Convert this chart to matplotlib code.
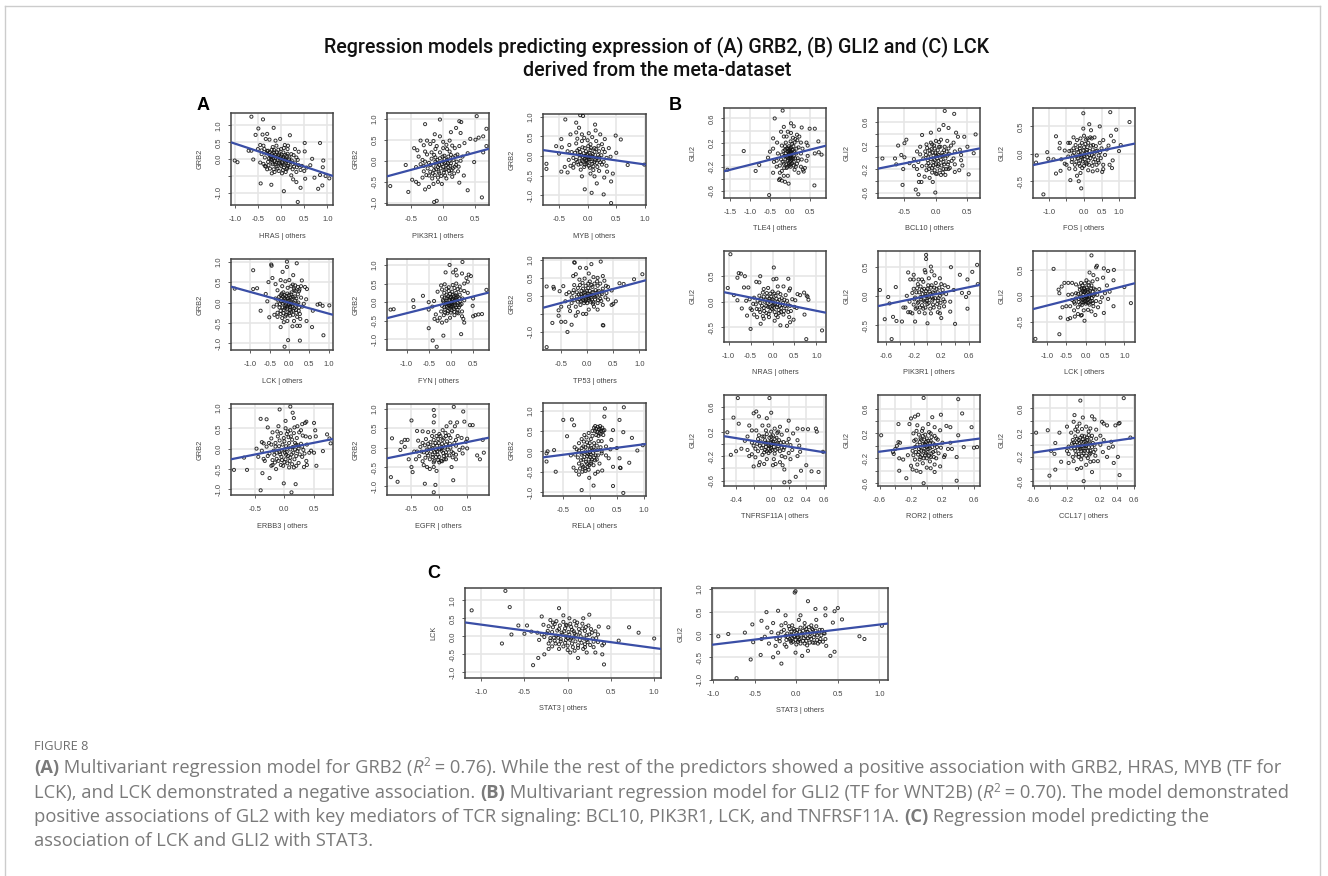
import matplotlib
matplotlib.use("Agg")
import matplotlib.pyplot as plt
from matplotlib.lines import Line2D

W, H = 1328, 876

#Points, (x, y) in the units of each panel

hras_pts = [(-.64,1.26),(-.39,1.18),(-.49,.91),(-.16,.93),(-.55,.72),(-1.0,-.04),(-.94,-.09),(-.7,.25),(-.64,.25),(-.6,-.01),(-.44,-.72),(-.21,-.76),(.06,-.95),(.36,-1.27),(.19,.71),(.51,.48),(.84,.48),(.91,-.04),(.9,-.24),(.8,-.88),(.89,-.78),(.96,-.5),(1.04,-.57),(.67,.01),(.51,.23),(.42,-.85),(.33,-.68),(.26,-.6),(.52,-.58),(.72,-.55),(.84,-.47),
(-.4,.73),(-.3,.75),(-.33,.6),(-.25,.58),(-.12,.55),(-.02,.6),(-.45,.42),(-.38,.4),(-.28,.25),(-.2,.28),(-.1,.4),(0,.3),(.08,.42),(.15,.4),(.3,.3),(.38,.22),(-.5,.3),(-.42,.15),(-.35,.05),(-.25,.12),(-.15,.2),(-.05,.12),(.05,.2),(.12,.1),(.22,.15),(.33,.05),(-.45,-.1),(-.35,-.2),(-.28,-.08),(-.2,-.02),(-.12,.04),(-.03,-.04),(.04,.03),(.12,-.05),(.2,-.08),(.3,-.1),(.38,-.18),(.45,-.2),(.55,-.25),(.63,-.18),
(-.33,-.22),(-.24,-.28),(-.18,-.15),(-.1,-.22),(-.02,-.16),(.06,-.25),(.15,-.2),(.25,-.3),(.33,-.38),(.42,-.32),(-.2,-.42),(-.14,-.38),(-.05,-.35),(.02,-.42),(.1,-.38),(.22,-.48),(.5,-.35),(-.16,.1),(-.08,.06),(0,.08),(.08,.0),(-.22,.0),(-.1,-.1),(.02,-.08),(.1,-.12),(.17,.0)]
hras_core = [(-.32,.18),(-.3,.24),(-.26,.02),(-.24,.2),(-.22,.08),(-.2,.16),(-.19,-.1),(-.17,.02),(-.15,.27),(-.14,-.06),(-.13,.14),(-.12,-.16),(-.09,.2),(-.07,-.03),(-.06,.28),(-.05,-.12),(-.04,.17),(-.01,.02),(.0,-.2),(.01,.14),(.03,-.12),(.05,.06),(.07,-.16),(.09,.13),(.1,-.02),(.13,-.26),(.14,.16),(.16,-.13),(.18,.05),(.19,-.24),(.23,-.04),(.25,-.14),(.27,.12),(.28,-.22),(-.38,-.14),(-.3,-.3),(-.27,-.18),(-.16,-.3),(-.08,-.28),(.04,-.32),(.12,-.3),(.34,-.24),(.36,-.02),(-.42,.26),(-.36,.3),(-.18,.36),(.06,.33),(.14,.3)]
hras_line = [.5, -.5]

grb_pik_pts = [(-.82,-.6),(-.58,-.1),(-.54,-.74),(-.05,.98),(-.28,.87),(.52,1.06),(.28,.92),(.25,.94),(.67,.76),(.2,.78),(.6,-.87),(.38,-.7),(-.14,-.98),(-.1,-.95),(.62,.58),(.62,.2),(.67,.35),(.55,.55),(.5,.5),(.42,.52),(.27,.66),(.48,-.03),(.12,.68),(-.13,.63),(-.05,.58),
(-.45,.3),(-.4,.25),(-.35,.48),(-.3,.37),(-.25,.48),(-.2,.4),(-.15,.47),(-.1,.35),(0,.45),(.05,.38),(.1,.48),(.18,.3),(.25,.35),(.33,.42),(-.38,.1),(-.32,.02),(-.25,.15),(-.18,.2),(-.12,.08),(-.05,.2),(.02,.12),(.1,.22),(.15,.08),(.22,.15),(.3,.1),(.38,.18),
(-.42,-.15),(-.35,-.08),(-.28,-.02),(-.2,-.1),(-.12,-.02),(-.06,-.1),(0,-.02),(.06,.02),(.12,-.06),(.2,-.1),(.27,.0),(-.48,-.45),(-.42,-.5),(-.38,-.55),(-.32,-.4),(-.28,-.68),(-.22,-.62),(-.15,-.55),(-.08,-.5),(-.02,-.55),(.03,-.35),(.1,-.3),(.17,-.3),(.25,-.52),(.32,-.35),(-.3,-.25),(-.22,-.35),(-.14,-.22),(-.06,-.3),(.02,-.22),(.08,-.15),(.15,-.18),(.23,-.25),(-.08,-.15),(-.02,-.08),(.05,-.1),(-.16,-.3)]
grb_pik_core = [(-.24,-.18),(-.22,-.05),(-.2,-.26),(-.18,.05),(-.17,-.42),(-.15,-.12),(-.14,.14),(-.13,-.34),(-.11,-.2),(-.1,-.06),(-.09,.02),(-.08,-.4),(-.07,-.26),(-.05,.06),(-.04,-.18),(-.03,-.36),(-.01,.1),(.0,-.14),(.01,-.28),(.02,.04),(.03,-.05),(.04,-.2),(.05,-.42),(.07,-.06),(.08,.1),(.09,-.24),(.1,.0),(.11,-.12),(.12,.14),(.13,-.22),(.14,-.38),(.16,.02),(.18,-.14),(.19,.12),(.21,-.02),(.24,-.14),(-.28,.22),(-.12,.28),(.0,.3),(.14,.36),(-.3,-.12),(-.26,-.34),(.06,.28)]
grb_pik_line = [-.37, .285]

myb_pts = [(-.39,.93),(-.13,1.04),(-.08,1.02),(-.2,.85),(.13,.8),(-.15,.72),(.14,.65),(.49,.52),(.58,.42),(.3,.43),(.22,.55),(.5,.08),(.7,-.23),(.99,-.22),(-.72,-.2),(-.72,-.33),(-.55,.25),(-.45,.22),(-.46,.43),(-.5,.06),(-.46,-.4),(.44,-.45),(.41,-.65),(.29,-.55),(.28,-.98),(.07,-.94),(-.05,-.85),(.41,-1.2),(.16,-.7),(.34,-.4),
(-.3,.55),(-.2,.6),(-.1,.55),(.0,.4),(.08,.48),(-.32,.28),(-.2,.32),(-.1,.38),(.05,.3),(.15,.38),(.25,.3),(-.35,.12),(-.28,.1),(-.15,.18),(-.05,.2),(.05,.15),(.12,.2),(.2,.12),(.3,.1),(.37,.2),(-.33,-.1),(-.25,-.05),(-.15,.03),(-.08,-.03),(.0,.05),(.08,.0),(.16,-.05),(.24,.02),(.33,-.05),(.4,-.02),
(-.4,-.28),(-.3,-.25),(-.18,-.15),(-.1,-.12),(-.02,-.1),(.05,-.08),(.12,-.15),(.2,-.1),(.28,-.15),(-.35,-.42),(-.25,-.3),(-.12,-.35),(-.05,-.22),(.02,-.25),(.08,-.2),(.17,-.28),(.25,-.22),(.33,-.25),(-.1,-.52),(.05,-.45),(.12,-.52),(.2,-.38),(-.02,-.12),(-.04,.0),(.02,-.03)]
myb_core = [(-.22,.08),(-.2,-.1),(-.18,.14),(-.16,-.22),(-.14,-.06),(-.13,.1),(-.12,-.2),(-.11,.02),(-.09,.22),(-.08,-.14),(-.07,.07),(-.06,-.28),(-.05,-.06),(-.03,.12),(-.02,-.2),(-.01,.02),(.0,-.16),(.01,.25),(.02,-.08),(.03,.08),(.04,-.3),(.05,-.02),(.06,.2),(.07,-.14),(.09,.05),(.1,-.26),(.11,-.04),(.12,.1),(.13,-.1),(.15,.18),(.16,-.18),(.18,.03),(.19,.26),(.2,-.04),(.22,-.16),(-.06,.46),(.02,.58),(-.18,.44),(.27,.18),(-.24,-.2),(.1,-.36)]
myb_line = [.15, -.22]

lck_pts = [(-.92,.79),(-.92,.33),(-.82,.35),(-1.39,.34),(-.6,.21),(-.56,.03),(-.73,-.2),(-.51,-.36),(-.46,.93),(-.45,.9),(-.53,.5),(-.43,.6),(-.17,.75),(-.06,1.0),(-.06,.87),(.19,.96),(.1,.67),(.32,.54),(.45,.33),(.4,.38),(.43,.08),(.58,-.6),(.87,-.8),(.72,-.05),(.78,-.03),(.85,-.08),(1.02,-.07),(.6,-.2),(.44,-.45),(.27,-.57),(.27,-.93),(-.03,-.92),(-.12,-1.08),(.2,-.57),(-.22,-.6),
(-.35,.45),(-.22,.55),(-.1,.52),(0,.55),(.05,.4),(.15,.42),(.25,.28),(-.3,.3),(-.22,.18),(-.15,.25),(-.05,.22),(.05,.2),(.13,.3),(.22,.2),(.3,.12),(-.35,.1),(-.28,.05),(-.2,.1),(-.12,.1),(-.03,.05),(.06,.08),(.15,.05),(.23,.0),(.37,-.03),(-.4,-.1),(-.32,-.05),(-.25,-.12),(-.17,-.02),(-.08,-.05),(.0,-.03),(.08,-.1),(.16,-.08),(.25,-.12),(.33,-.1),
(-.38,-.3),(-.3,-.25),(-.22,-.2),(-.14,-.18),(-.06,-.15),(.02,-.18),(.1,-.2),(.18,-.25),(.27,-.28),(-.3,-.35),(-.18,-.38),(-.08,-.3),(.02,-.32),(.12,-.45),(.2,-.35),(.28,-.4),(-.05,-.45),(.08,-.58),(-.14,-.48),(.02,-.1),(-.1,-.08),(.05,-.03)]
lck_core = [(-.26,.14),(-.24,-.04),(-.22,-.28),(-.2,.03),(-.19,.22),(-.17,-.12),(-.16,.14),(-.15,-.26),(-.13,.02),(-.12,.18),(-.11,-.14),(-.1,-.34),(-.09,.06),(-.07,.16),(-.06,-.1),(-.05,-.24),(-.04,.1),(-.02,-.06),(-.01,.18),(.0,-.26),(.01,.06),(.03,-.12),(.04,.12),(.05,-.22),(.06,.25),(.07,-.02),(.09,.14),(.1,-.3),(.11,.0),(.12,.34),(.13,-.14),(.14,.15),(.16,.28),(.17,-.18),(.18,.1),(.2,-.04),(.22,.38),(.24,-.2),(.26,.32),(.3,.4),(.09,.44),(-.04,.36),(-.18,.4)]
lck_line = [.39, -.30]

fyn_pts = [(-1.36,-.2),(-1.29,-.19),(-.85,.05),(-.84,-.13),(-.63,.17),(-.5,.0),(-.5,-.7),(-.41,-1.03),(-.32,-1.2),(-.17,-.9),(.23,-.86),(-.03,1.0),(.05,.8),(.11,.87),(.26,1.08),(-.12,.8),(.13,.72),(.25,.77),(.45,.7),(.8,.33),(.4,.74),(.35,.65),(.5,.1),(.49,-.1),(.5,-.38),(.55,-.35),(.62,-.33),(.7,-.32),(.3,-.55),(.28,-.45),
(-.5,-.2),(-.42,-.12),(-.38,.03),(-.34,-.33),(-.37,-.45),(-.3,.28),(-.2,.15),(-.22,.45),(-.14,.48),(-.05,.4),(.04,.46),(.12,.5),(.2,.42),(.3,.5),(.38,.55),(-.15,.25),(-.05,.3),(.03,.28),(.12,.25),(.2,.2),(.3,.3),(.38,.25),(-.18,.05),(-.1,.1),(-.02,.12),(.05,.08),(.12,.12),(.2,.02),(.3,.05),
(-.2,-.1),(-.12,-.05),(-.05,-.02),(.02,.0),(.08,-.03),(.15,-.08),(.24,-.05),(-.22,-.25),(-.14,-.2),(-.06,-.15),(.0,-.12),(.07,-.18),(.15,-.2),(.25,-.25),(-.25,-.42),(-.16,-.35),(-.08,-.3),(.0,-.28),(.08,-.35),(.17,-.3),(.25,-.38),(-.2,-.55),(-.1,-.5),(-.02,-.42),(-.3,-.5),(.02,-.05),(-.03,-.08),(.04,.05)]
fyn_core = [(-.17,.02),(-.15,-.14),(-.14,.12),(-.13,-.28),(-.11,-.02),(-.1,.2),(-.09,-.12),(-.08,.04),(-.07,-.24),(-.06,.16),(-.05,-.08),(-.04,.06),(-.03,-.18),(-.02,.22),(-.01,-.04),(.0,.14),(.01,-.22),(.02,.08),(.03,-.1),(.04,.2),(.05,-.14),(.06,.0),(.07,.16),(.08,-.26),(.09,.05),(.1,-.08),(.11,.18),(.12,-.14),(.13,.06),(.14,-.28),(.15,.15),(.16,-.02),(.18,-.14),(.19,.1),(.21,-.08),(.22,.32),(.08,.38),(-.1,.36),(.26,.1),(-.2,.34),(.15,.35)]
fyn_line = [-.43, .26]

tp53_pts = [(-.78,-1.42),(-.38,-1.0),(-.78,.26),(-.65,.25),(-.64,.2),(-.53,.13),(-.46,.27),(-.67,-.75),(-.55,-.55),(-.5,-.72),(-.42,-.72),(-.3,-.8),(-.22,-.55),(.31,-.82),(.3,-.81),(-.25,.93),(-.24,.92),(.08,.88),(.26,.95),(-.27,.55),(-.22,.6),(.03,.62),(.9,.46),(1.06,.6),(.7,.33),(.62,.35),(.55,-.15),(.5,-.22),(-.02,.77),(-.14,.78),(.3,.55),
(-.55,-.4),(-.5,-.3),(-.42,-.15),(-.35,.1),(-.3,-.2),(-.25,.3),(-.15,.45),(-.05,.48),(.05,.4),(.12,.52),(.2,.5),(.33,.42),(-.4,.05),(-.28,.08),(-.18,.22),(-.08,.2),(.02,.22),(.1,.25),(.2,.28),(.3,.2),(.4,.25),(.47,.15),(-.2,-.02),(-.12,.05),(-.04,.1),(.04,.05),(.12,.1),(.2,.1),(.28,.05),(.37,.08),
(-.35,-.3),(-.25,-.12),(-.15,-.1),(-.07,-.05),(0,-.02),(.07,-.05),(.15,-.02),(.25,-.08),(.4,-.1),(-.33,-.42),(-.22,-.3),(-.13,-.25),(-.04,-.15),(.04,-.12),(.12,-.18),(.2,-.2),(.3,-.25),(-.18,-.45),(-.08,-.5),(.03,-.38),(.13,-.3),(.2,-.38),(-.02,-.5),(.47,-.25),(-.03,-.08),(.03,.0)]
tp53_core = [(-.2,.1),(-.18,-.16),(-.16,.04),(-.14,.3),(-.12,-.14),(-.11,.14),(-.1,-.02),(-.09,.36),(-.08,-.12),(-.07,.08),(-.06,-.2),(-.05,.02),(-.03,.28),(-.02,-.12),(-.01,.14),(.0,-.2),(.01,.06),(.02,.34),(.03,-.06),(.05,.14),(.06,-.16),(.07,.02),(.08,.3),(.09,-.1),(.1,.1),(.11,-.22),(.13,.02),(.14,.34),(.15,-.1),(.16,.16),(.18,.0),(.19,.4),(.21,-.12),(.22,.14),(.24,.03),(.25,.34),(.27,-.14),(.29,.12),(.35,-.04),(.36,.28),(-.26,.16),(-.3,-.04)]
tp53_line = [-.33, .435]

erbb3_pts = [(-.85,-.52),(-.68,-.22),(-.63,-.52),(-.47,.0),(-.4,-1.02),(-.4,.73),(-.3,.72),(-.37,-.6),(-.25,-.72),(-.08,.96),(.1,1.03),(.14,.88),(.16,.75),(.02,.68),(-.01,-.85),(.19,-.87),(.12,-1.07),(.5,.63),(.52,.45),(.72,.35),(.76,.25),(.78,.13),(.65,-.06),(.54,-.42),(.37,.66),(.35,.63),(.5,-.1),(.3,.6),(.22,.55),
(-.44,-.2),(-.38,.16),(-.35,.13),(-.33,-.3),(-.28,.52),(-.22,.25),(-.2,.4),(-.12,.42),(-.1,.55),(.02,.5),(.1,.45),(.17,.52),(.28,.45),(.36,.3),(.43,.28),(.53,.3),(-.38,-.05),(-.3,.05),(-.22,.1),(-.15,.05),(-.08,.2),(.0,.18),(.07,.28),(.13,.22),(.2,.1),(.3,.05),(.38,.1),(.45,-.05),
(-.35,-.25),(-.25,-.12),(-.17,-.15),(-.08,-.08),(0,-.02),(.07,.03),(.15,-.1),(.24,.0),(.32,-.03),(.42,-.1),(-.2,-.4),(-.13,-.25),(-.05,-.2),(.03,-.15),(.1,-.22),(.2,-.18),(.3,-.2),(.37,-.3),(-.22,-.42),(-.14,-.5),(-.06,-.4),(.0,-.33),(.08,-.46),(.16,-.46),(.24,-.35),(.33,-.45),(.38,-.4),(-.05,-.05),(.04,-.08),(.1,-.02)]
erbb3_core = [(-.2,-.28),(-.18,-.05),(-.16,-.34),(-.15,.14),(-.13,-.1),(-.11,.3),(-.1,-.3),(-.09,.06),(-.07,-.14),(-.06,.38),(-.04,-.28),(-.03,.1),(-.02,-.42),(-.01,.26),(.01,-.1),(.02,-.26),(.03,.06),(.04,.36),(.05,-.36),(.06,-.18),(.08,.14),(.09,-.3),(.11,.3),(.12,-.14),(.13,-.38),(.14,.04),(.16,.38),(.17,-.26),(.18,.14),(.2,-.42),(.21,.26),(.22,-.06),(.25,.4),(.26,-.14),(.28,.12),(.31,.32),(.34,-.12),(.23,.08),(.18,-.02),(-.28,-.18),(-.26,.14),(.06,.42)]
erbb3_line = [-.26, .237]

egfr_pts = [(-.87,-.76),(-.75,-.88),(-.85,.24),(-.62,.2),(-.68,.14),(-.57,.2),(-.62,.02),(-.7,-.06),(-.5,.7),(-.1,.97),(-.09,.82),(-.1,.65),(.26,1.05),(.43,.93),(.45,.67),(.55,.58),(.6,.58),(.68,-.2),(.8,-.13),(.78,.2),(.5,.23),(.73,-.3),(-.26,-.93),(-.07,-.96),(-.1,-1.15),(.25,-.84),(.22,-.5),(-.48,-.63),(-.05,-.6),(.32,.65),
(-.55,-.3),(-.5,-.5),(-.45,-.1),(-.4,.43),(-.3,.42),(-.2,.4),(-.1,.42),(0,.35),(.06,.45),(.13,.55),(.2,.65),(.28,.55),(-.38,.18),(-.3,.12),(-.2,.1),(-.1,.2),(-.02,.22),(.06,.2),(.12,.3),(.2,.25),(.3,.2),(.4,.25),(.48,.15),(-.4,-.1),(-.32,-.1),(-.22,-.05),(-.12,-.02),(-.04,.05),(.04,.02),(.12,.08),(.2,.0),(.3,.05),(.42,.0),(.5,-.02),
(-.42,-.3),(-.3,-.35),(-.2,-.2),(-.12,-.18),(-.04,-.1),(.04,-.08),(.12,-.12),(.22,-.1),(.3,-.18),(.42,-.15),(-.28,-.45),(-.17,-.55),(-.1,-.38),(-.02,-.32),(.05,-.35),(.12,-.3),(.24,-.25),(.3,-.3),(-.22,-.5),(-.1,-.5),(.0,-.38),(.08,-.22),(.04,-.03),(-.06,-.05)]
egfr_core = [(-.28,-.12),(-.26,.06),(-.25,-.26),(-.24,.22),(-.22,-.14),(-.18,.02),(-.17,-.3),(-.16,.14),(-.15,-.1),(-.13,.3),(-.12,-.24),(-.11,.06),(-.09,-.34),(-.08,-.12),(-.07,.12),(-.06,-.24),(-.05,.3),(-.03,-.18),(-.01,.12),(.0,-.24),(.01,-.04),(.02,.3),(.03,-.34),(.05,.1),(.07,-.14),(.08,.24),(.09,-.3),(.1,.0),(.11,.38),(.13,-.2),(.14,.16),(.15,-.05),(.17,.32),(.18,-.2),(.19,.1),(.23,.42),(.25,-.14),(.27,.12),(.33,.3),(.36,-.06),(-.34,.02),(-.36,-.22)]
egfr_line = [-.275, .257]

rela_pts = [(-.49,.77),(-.33,.78),(-.29,.64),(-.42,.37),(-.78,.0),(-.8,-.05),(-.8,-.25),(-.66,.03),(-.63,-.5),(.28,1.05),(.27,.85),(.63,1.08),(.55,.77),(.62,.47),(.78,.33),(.88,.02),(.98,.15),(.43,.52),(.73,-.28),(.55,-.17),(.56,-.4),(.57,-.41),(.43,-.38),(.43,-.85),(.62,-1.02),(.07,-.84),(-.01,-.65),(-.15,-.95),(.4,.28),(.5,.08),
(-.35,-.1),(-.3,-.4),(-.25,-.48),(-.2,.2),(-.15,.3),(-.1,.4),(-.02,.45),(.05,.5),(.1,.62),(.15,.6),(.2,.55),(.25,.5),(-.28,.1),(-.2,.02),(-.12,.12),(-.05,.22),(.02,.3),(.08,.2),(.16,.25),(.22,.25),(.3,.12),(.38,.05),(-.22,-.15),(-.15,-.08),(-.08,.0),(0,.05),(.07,.1),(.14,.03),(.22,.0),(.3,-.1),(.35,-.17),
(-.2,-.3),(-.12,-.2),(-.05,-.12),(.02,-.08),(.08,-.15),(.15,-.1),(.22,-.05),(-.18,-.42),(-.12,-.38),(-.05,-.3),(.03,-.25),(.1,-.22),(.18,-.3),(-.08,-.48),(-.02,-.45),(.1,-.55),(.15,-.5),(.23,-.47),(-.2,-.57),(-.14,-.5),(.0,-.02),(-.03,-.07),(.12,.4),(.18,.45),(.08,.58)]
rela_core = [(-.16,-.22),(-.15,.08),(-.14,-.34),(-.13,-.04),(-.11,.24),(-.1,-.14),(-.09,-.42),(-.08,.1),(-.07,-.26),(-.06,.34),(-.05,-.04),(-.04,-.38),(-.03,.14),(-.02,-.2),(-.01,-.34),(.0,.2),(.01,-.14),(.02,-.3),(.03,.08),(.04,-.2),(.05,.38),(.06,-.04),(.07,-.34),(.09,.02),(.1,.5),(.11,-.1),(.12,.55),(.13,-.2),(.14,.48),(.16,.38),(.17,.54),(.19,.62),(.2,.42),(.21,.5),(.23,.58),(.25,.4),(.27,.52),(.13,.14),(.2,.1),(-.24,.05),(-.27,-.08)]
rela_line = [-.148, .18]

tle4_pts = [(-1.57,-.25),(-1.16,.06),(-.86,-.27),(-.77,-.17),(-.52,-.67),(-.18,.73),(-.38,.6),(.62,-.51),(-.03,-.48),(-.15,.46),(.03,.52),(.1,.47),(.3,.45),(.63,.43),(.5,.43),(.72,.22),(.73,.04),(.8,.0),(.63,.02),(.45,-.02),(-.42,-.3),(-.27,-.42),(-.2,-.43),(-.12,-.45),(-.5,.05),(-.42,.1),(-.55,-.05),(-.42,.27),(.35,-.28),
(-.4,-.12),(-.33,-.2),(-.25,-.3),(-.22,.38),(-.15,.3),(-.05,.38),(.08,.28),(.18,.33),(.28,.2),(.42,.2),(-.32,.2),(-.2,.15),(-.1,.2),(.02,.22),(.12,.2),(.22,.12),(.32,.1),(.45,.15),(-.3,.02),(-.2,.0),(-.12,.08),(-.05,.05),(.02,.05),(.08,.08),(.16,.02),(.28,.02),(-.33,-.1),(-.22,-.08),(-.13,-.02),(-.05,-.02),(.02,-.03),(.1,-.02),(.2,-.06),(.3,-.08),(.42,-.1),
(-.25,-.18),(-.15,-.15),(-.06,-.1),(.02,-.1),(.1,-.12),(.18,-.15),(.28,-.2),(.38,-.22),(-.2,-.27),(-.08,-.22),(.02,-.2),(.12,-.25),(.22,-.3),(.33,-.25),(-.15,-.35),(-.05,-.35),(-.25,-.4),(.05,.0),(-.02,.02),(0,-.05),(.03,-.06)]
tle4_core = [(-.18,-.12),(-.16,.06),(-.14,-.22),(-.12,.14),(-.11,-.08),(-.1,.02),(-.09,-.16),(-.08,.1),(-.07,-.04),(-.06,-.2),(-.04,.1),(-.04,-.06),(-.03,.0),(-.03,-.14),(-.02,.07),(-.01,-.18),(-.01,.03),(.0,.1),(.0,-.12),(.01,-.02),(.02,.12),(.02,-.16),(.03,.02),(.04,-.08),(.05,.08),(.06,-.14),(.07,.03),(.08,-.06),(.09,.14),(.1,-.18),(.11,.05),(.13,-.06),(.14,.26),(.15,-.2),(.17,.1),(.19,.24),(.21,-.1),(.24,.3),(-.08,.3),(.03,.36),(-.02,.14),(.06,.18)]
tle4_line = [-.276, .149]

bcl10_pts = [(-.85,-.02),(-.65,-.02),(-.63,-.12),(-.55,.04),(-.6,.2),(-.5,.24),(-.47,.3),(-.52,-.2),(-.53,-.47),(-.5,.0),(-.32,-.55),(-.28,-.63),(-.27,-.42),(-.23,-.42),(-.01,-.6),(.14,.79),(.29,.74),(.12,.55),(.2,.5),(.05,.47),(-.08,.42),(-.22,.38),(.32,.42),(.63,.39),(.45,.35),(.52,-.29),(.6,.07),(.4,.04),(.38,.13),(.5,.18),
(-.42,-.1),(-.35,-.15),(-.3,.1),(-.25,.18),(-.15,.22),(-.08,.25),(0,.28),(.08,.3),(.18,.28),(.28,.25),(.35,.35),(-.35,-.03),(-.25,.05),(-.17,.1),(-.1,.12),(-.02,.15),(.05,.18),(.13,.12),(.2,.15),(.3,.1),(-.28,-.08),(-.2,-.02),(-.12,.0),(-.04,.03),(.03,.05),(.1,.02),(.18,.03),(.28,-.02),(.4,-.05),
(-.3,-.2),(-.22,-.15),(-.12,-.1),(-.04,-.08),(.04,-.06),(.12,-.08),(.2,-.08),(.3,-.12),(.42,-.14),(-.27,-.3),(-.15,-.22),(-.06,-.18),(.03,-.15),(.12,-.2),(.2,-.2),(.3,-.25),(.37,-.22),(-.18,-.33),(-.1,-.35),(.0,-.28),(.08,-.3),(.15,-.3),(-.05,-.42),(.02,-.02),(-.02,-.05)]
bcl10_core = [(-.16,.04),(-.15,-.14),(-.14,.16),(-.13,-.05),(-.11,-.2),(-.1,.06),(-.09,-.14),(-.08,-.03),(-.07,.14),(-.06,-.26),(-.05,.08),(-.04,-.14),(-.03,.2),(-.02,-.22),(-.01,.08),(.0,-.12),(.01,.02),(.02,-.28),(.03,.12),(.04,-.12),(.05,.04),(.06,-.22),(.07,.18),(.08,-.04),(.09,-.14),(.1,.08),(.11,-.26),(.12,.04),(.13,-.12),(.14,.18),(.15,-.02),(.16,-.2),(.17,.1),(.19,-.12),(.21,.06),(.22,-.18),(.24,.2),(.25,-.06),(.05,.26),(-.06,.22)]
bcl10_line = [-.193, .153]

fos_pts = [(-1.16,-.74),(-1.35,-.03),(-1.37,-.16),(-1.05,.03),(-1.02,-.09),(-.87,-.1),(-.8,.32),(-.69,.2),(-.7,.1),(-.8,-.36),(-.67,-.31),(-.39,-.48),(-.15,-.5),(-.08,-.63),(-.02,.74),(.75,.76),(1.3,.58),(.92,.44),(.85,.23),(1.05,.16),(1.0,.05),(.82,-.12),(.8,-.26),(.73,-.2),(.52,-.33),(.15,.54),(.45,.5),(-.02,.46),(.2,.43),(.77,.33),
(-.65,-.1),(-.55,-.18),(-.45,.2),(-.4,.2),(-.3,.3),(-.2,.25),(-.12,.15),(0,.33),(.1,.28),(.18,.3),(.3,.3),(.45,.2),(.55,.25),(.7,.15),(-.55,.06),(-.42,.05),(-.3,.1),(-.2,.08),(-.1,.05),(0,.12),(.1,.12),(.25,.08),(.35,.05),(.5,.1),(.65,.08),(-.45,-.05),(-.32,-.03),(-.22,-.05),(-.1,-.02),(.02,.0),(.15,-.02),(.28,-.05),(.42,-.03),(.6,-.02),
(-.5,-.2),(-.35,-.15),(-.22,-.14),(-.1,-.12),(.02,-.1),(.13,-.12),(.27,-.15),(.4,-.12),(.55,-.2),(-.42,-.27),(-.25,-.28),(-.12,-.22),(0,-.22),(.12,-.3),(.25,-.32),(.38,-.3),(.55,-.28),(-.2,-.4),(-.1,-.35),(.08,-.18),(-.05,-.05),(.07,.03)]
fos_core = [(-.36,.06),(-.34,-.1),(-.28,.02),(-.26,-.2),(-.24,.16),(-.18,-.08),(-.16,.03),(-.14,-.18),(-.12,.1),(-.08,-.06),(-.06,.2),(-.04,-.14),(-.02,.06),(.0,-.04),(.04,.18),(.05,-.16),(.08,.07),(.1,-.06),(.12,.2),(.14,-.2),(.16,.05),(.18,-.08),(.2,.15),(.22,-.02),(.24,-.22),(.26,.16),(.3,.02),(.32,-.1),(.34,.14),(.36,-.2),(.38,.06),(.42,-.16),(.46,.03),(.48,-.08),(.22,.28),(.06,.26),(-.1,.28),(-.05,-.26)]
fos_line = [-.206, .188]

nras_pts = [(-.96,.93),(-1.02,.27),(-.88,.13),(-.8,.47),(-.77,.56),(-.72,.55),(-.8,.03),(-.7,-.13),(-.63,.5),(-.5,-.53),(-.28,.5),(-.37,.39),(-.3,.38),(.03,.67),(.02,.44),(.09,.45),(.36,.45),(.4,.26),(.77,-.73),(1.13,-.56),(.8,.1),(.82,.04),(.72,.18),(.78,.12),(.73,-.25),(.57,.15),(.63,.13),(.18,-.46),(.33,-.47),(.4,-.4),(.48,-.35),(-.27,-.43),(-.65,.28),(-.55,.28),
(-.6,.02),(-.58,-.27),(-.5,-.13),(-.42,-.25),(-.35,-.3),(-.28,-.2),(-.2,.25),(-.1,.27),(0,.2),(.12,.3),(.25,.3),(.38,.22),(-.52,.05),(-.42,.08),(-.3,.12),(-.2,.1),(-.12,.1),(-.03,.1),(.07,.12),(.18,.15),(.3,.13),(.45,.05),(.52,.03),(-.38,-.05),(-.28,-.02),(-.18,.0),(-.08,.02),(.02,.03),(.12,.0),(.24,-.02),(.35,-.05),(.5,-.1),
(-.3,-.15),(-.2,-.12),(-.1,-.1),(.0,-.08),(.1,-.1),(.2,-.12),(.32,-.13),(.42,-.18),(.55,-.12),(-.22,-.28),(-.14,-.22),(-.05,-.18),(.05,-.2),(.15,-.22),(.25,-.25),(.38,-.3),(-.2,-.33),(-.08,-.3),(.05,-.37),(.12,-.3),(.02,-.05)]
nras_core = [(-.26,.06),(-.24,-.08),(-.22,.18),(-.19,-.18),(-.16,.04),(-.14,-.08),(-.13,.17),(-.11,-.02),(-.09,-.24),(-.07,.06),(-.06,-.1),(-.05,.16),(-.03,-.02),(-.01,-.14),(.0,.05),(.03,-.12),(.04,.16),(.06,-.04),(.08,-.26),(.09,.06),(.11,-.06),(.13,.18),(.14,-.16),(.16,.04),(.17,-.08),(.19,-.2),(.21,.07),(.23,-.06),(.26,-.18),(.27,.04),(.29,-.08),(.33,.02),(.36,-.2),(.4,-.08),(-.34,.02),(-.36,-.14),(-.44,-.04),(-.47,-.16)]
nras_line = [.188, -.214]

gli_pik_pts = [(-.69,.1),(-.62,-.4),(-.57,-.02),(-.5,-.36),(-.45,-.43),(-.37,-.44),(-.52,-.74),(-.46,.15),(-.55,-.13),(-.32,-.2),(-.28,.4),(-.2,.36),(-.02,.7),(-.02,.63),(.05,.5),(.06,.42),(.34,.49),(.47,.36),(.58,.28),(.65,.41),(.72,.53),(.73,.2),(.6,.05),(.5,.05),(.56,-.02),(.58,-.22),(.4,-.48),(-.18,-.44),(.0,-.47),(.2,-.38),(.33,-.27),
(-.35,-.2),(-.3,.0),(-.28,-.28),(-.25,.28),(-.2,.12),(-.13,.28),(-.08,.28),(.02,.3),(.1,.35),(.18,.3),(.25,.18),(-.22,.05),(-.15,.13),(-.08,.1),(.0,.12),(.06,.18),(.13,.12),(.22,.1),(.3,.15),(.38,.1),(-.26,-.1),(-.18,-.03),(-.1,-.02),(-.03,.03),(.04,.03),(.1,.05),(.18,.0),(.27,.03),
(-.2,-.15),(-.13,-.1),(-.06,-.08),(.0,-.04),(.08,-.05),(.15,-.08),(.25,-.1),(.33,-.1),(-.22,-.3),(-.15,-.2),(-.08,-.16),(.0,-.14),(.08,-.15),(.17,-.2),(.24,-.18),(-.25,-.28),(-.12,-.28),(-.04,-.3),(.05,-.3),(.15,-.28),(.18,-.3),(-.2,.28),(.02,-.02),(-.02,.0),(.06,-.02)]
gli_pik_core = [(-.19,-.06),(-.17,-.22),(-.16,.06),(-.14,-.12),(-.12,.06),(-.11,-.2),(-.1,.16),(-.09,-.06),(-.07,.03),(-.06,-.22),(-.05,.12),(-.04,-.1),(-.03,-.2),(-.02,.08),(-.01,-.08),(.01,.18),(.02,-.12),(.03,.07),(.04,-.22),(.05,.14),(.07,-.08),(.08,.06),(.09,-.2),(.1,.14),(.11,-.04),(.12,.22),(.14,-.14),(.15,.06),(.16,-.04),(.17,.14),(.19,-.12),(.2,.2),(.21,.04),(.23,-.06),(-.04,.44),(-.03,.4),(-.14,.2),(-.06,.24)]
gli_pik_line = [-.176, .1875]

gli_lck_pts = [(-1.3,-.83),(-.83,.52),(-.68,-.74),(-.65,-.42),(-.7,.12),(-.68,.05),(-.62,.18),(-.55,.25),(-.46,-.45),(-.4,-.43),(-.03,-.48),(.15,.78),(.29,.58),(.27,.55),(.47,.53),(.58,.48),(.73,.5),(.72,.3),(1.0,.17),(1.17,-.14),(.72,-.2),(.47,-.33),(.62,.08),(.25,-.37),(-.12,-.38),(-.1,-.37),
(-.6,-.22),(-.5,-.2),(-.45,.25),(-.35,.25),(-.25,.22),(-.12,.25),(.02,.3),(.1,.45),(.2,.4),(.3,.32),(.45,.35),(.55,.2),(-.45,.02),(-.35,.03),(-.25,.05),(-.15,.12),(-.05,.15),(.05,.12),(.15,.2),(.25,.12),(.35,.13),(.5,.05),(-.35,-.08),(-.25,-.05),(-.15,-.02),(-.06,.02),(.02,.03),(.1,.03),(.2,.0),(.3,.02),(.42,-.03),(.58,-.06),
(-.4,-.2),(-.28,-.15),(-.18,-.12),(-.08,-.08),(0,-.05),(.08,-.06),(.17,-.1),(.27,-.1),(.38,-.12),(-.3,-.28),(-.2,-.22),(-.1,-.18),(0,-.15),(.1,-.17),(.2,-.2),(.32,-.22),(-.2,-.35),(-.05,-.28),(.06,-.27),(.15,-.3),(-.28,-.4),(-.3,-.12),(.03,-.02),(-.04,.07)]
gli_lck_core = [(-.2,.04),(-.18,-.06),(-.16,.18),(-.14,-.16),(-.12,.06),(-.11,-.05),(-.1,.14),(-.09,-.12),(-.08,.08),(-.07,-.02),(-.05,-.12),(-.04,.14),(-.03,-.04),(-.02,.08),(-.01,-.1),(.0,.1),(.01,-.02),(.02,-.12),(.03,.16),(.04,.0),(.05,-.08),(.06,.08),(.07,-.14),(.08,.2),(.09,-.02),(.11,.1),(.12,-.1),(.13,.02),(.14,.14),(.16,-.04),(.18,.08),(.19,-.14),(.21,.14),(.23,.03),(.08,.26),(-.08,.2),(-.02,.24),(.18,.28)]
gli_lck_line = [-.256, .244]

tnf_pts = [(-.5,.19),(-.43,.43),(-.38,.75),(-.37,.33),(-.46,-.18),(-.4,-.12),(-.02,.75),(.0,.51),(-.2,.5),(-.17,.53),(-.14,.45),(-.05,.42),(.15,-.63),(.21,-.62),(.28,-.54),(.4,-.35),(.34,-.44),(.46,-.45),(.54,-.46),(.52,.2),(.51,.25),(.42,.24),(.36,.24),(.3,.25),(.2,.38),(.59,-.13),(.15,-.42),(.13,-.35),(-.2,-.37),(-.14,-.35),(-.25,.3),(.3,-.2),
(-.34,-.08),(-.3,.05),(-.27,.12),(-.25,-.2),(-.22,.22),(-.17,.22),(-.1,.3),(-.03,.3),(.04,.25),(.1,.28),(.18,.22),(.25,.17),(-.22,.02),(-.15,.08),(-.08,.12),(0,.12),(.06,.1),(.12,.15),(.2,.08),(.3,.06),(-.27,-.1),(-.2,-.03),(-.13,-.03),(-.06,.02),(.0,.03),(.07,.02),(.14,.03),(.22,-.02),(.32,-.03),
(-.22,-.17),(-.15,-.12),(-.07,-.1),(.0,-.07),(.07,-.08),(.14,-.1),(.24,-.1),(.33,-.13),(-.18,-.22),(-.1,-.18),(-.03,-.15),(.04,-.16),(.12,-.2),(.2,-.15),(-.13,-.3),(-.05,-.25),(.03,-.25),(.1,-.3),(.22,-.25),(-.08,-.33),(.02,-.35),(.05,-.33),(-.03,-.02),(.02,.0),(.16,-.22)]
tnf_core = [(-.12,.04),(-.11,-.07),(-.1,.12),(-.09,-.02),(-.08,-.14),(-.07,.06),(-.06,-.05),(-.05,.16),(-.05,-.12),(-.04,.02),(-.03,-.08),(-.02,.1),(-.02,-.04),(-.01,-.12),(.0,.06),(.0,-.02),(.01,-.1),(.02,.14),(.02,.03),(.03,-.05),(.04,.08),(.05,-.1),(.06,.0),(.07,.18),(.08,-.04),(.09,.06),(.1,-.12),(.11,.02),(.12,-.06),(-.16,.0),(-.18,-.08),(-.14,.14),(-.06,.22),(.0,.2),(.08,.2),(.15,-.06),(.18,.02)]
tnf_line = [.126, -.143]

ror2_pts = [(-.58,.17),(-.43,-.1),(-.42,-.13),(-.4,-.05),(-.38,.0),(-.36,.06),(-.34,.05),(-.36,.35),(-.35,-.2),(-.3,-.22),(-.35,-.4),(-.26,-.52),(-.04,.77),(.4,.75),(.45,.52),(.57,.3),(.4,.17),(.64,-.02),(.6,-.03),(.47,-.02),(.38,-.18),(.38,-.56),(-.04,-.6),(.18,.5),(.07,.46),(-.15,.47),(-.2,.44),(-.11,.5),(.3,.3),(.25,.32),
(-.22,.35),(-.18,-.08),(-.24,-.15),(-.2,-.32),(-.17,.2),(-.12,.33),(-.05,.28),(.02,.35),(.1,.3),(.17,.25),(-.14,.1),(-.08,.12),(-.02,.18),(.05,.2),(.12,.12),(.2,.05),(.3,.05),(-.15,-.02),(-.08,-.02),(-.02,.03),(.04,.05),(.1,.02),(.18,-.03),(.27,-.05),(.32,-.05),
(-.17,-.15),(-.1,-.1),(-.04,-.08),(.02,-.05),(.08,-.1),(.15,-.12),(.23,-.15),(-.15,-.22),(-.08,-.18),(-.02,-.15),(.05,-.18),(.12,-.2),(.22,-.18),(-.18,-.38),(-.12,-.3),(-.05,-.28),(.04,-.25),(.1,-.3),(.17,-.33),(-.13,-.4),(-.08,-.42),(.0,-.35),(.05,-.36),(.1,-.42),(-.03,.02),(.0,-.02)]
ror2_core = [(-.12,.02),(-.11,-.14),(-.1,.18),(-.1,-.05),(-.09,.06),(-.09,-.22),(-.07,.1),(-.07,-.08),(-.06,-.15),(-.05,.03),(-.05,.16),(-.04,-.2),(-.03,-.05),(-.03,.1),(-.01,-.12),(-.01,.06),(.0,-.2),(.0,.12),(.01,.0),(.01,-.1),(.02,.08),(.03,-.16),(.03,.22),(.04,-.04),(.05,.08),(.06,-.12),(.06,.14),(.07,-.02),(.08,.04),(.09,-.18),(.1,.16),(.11,-.08),(.13,-.02),(.14,.1),(-.14,-.1),(-.16,.08),(-.13,.24),(-.06,.24)]
ror2_line = [-.097, .118]

ccl17_pts = [(-.57,.2),(-.43,.24),(-.41,-.51),(-.34,-.41),(-.39,-.1),(-.35,-.15),(-.34,.03),(-.29,.2),(-.27,-.28),(-.04,.73),(.48,.77),(.43,.36),(.42,.35),(.38,.32),(.56,.12),(.43,-.5),(.41,-.2),(.36,-.3),(.0,-.6),(.1,-.45),(-.01,.45),(.1,.47),(.13,.42),(-.11,.49),(.22,.38),(.24,.35),(.28,.32),(-.12,.38),
(-.2,-.1),(-.18,-.3),(-.2,.3),(-.15,.2),(-.1,.25),(-.05,.35),(.03,.3),(.08,.27),(.15,.25),(.2,.15),(-.13,.08),(-.08,.1),(-.02,.15),(.04,.12),(.1,.15),(.15,.1),(.24,.08),(.33,.05),(-.18,-.03),(-.1,.0),(-.05,.03),(.0,.05),(.06,.02),(.13,.0),(.2,.0),(.3,-.05),(.35,-.03),
(-.18,-.15),(-.1,-.1),(-.04,-.07),(.02,-.06),(.08,-.1),(.14,-.08),(.23,-.12),(-.13,-.2),(-.06,-.15),(.0,-.14),(.07,-.16),(.14,-.18),(.28,-.2),(-.12,-.27),(-.03,-.24),(.05,-.22),(.12,-.27),(.17,-.27),(-.08,-.4),(-.03,-.38),(.03,-.33),(.08,-.28),(-.02,-.02),(.02,.0)]
ccl17_core = [(-.12,.04),(-.11,-.06),(-.1,.14),(-.09,-.16),(-.08,.04),(-.07,-.06),(-.06,.08),(-.06,-.2),(-.05,-.04),(-.04,.12),(-.03,-.1),(-.03,.05),(-.02,-.18),(-.01,.09),(.0,-.06),(.01,.14),(.01,-.1),(.02,.06),(.03,-.02),(.03,-.18),(.04,.08),(.05,-.1),(.06,.16),(.06,-.04),(.07,.04),(.08,-.14),(.09,.1),(.1,-.04),(.11,.03),(.12,-.12),(-.07,.22),(-.02,.26),(-.08,.3),(.06,.22),(-.15,-.06),(-.14,.02)]
ccl17_line = [-.13, .115]

c_lck_pts = [(-1.11,.72),(-.72,1.26),(-.67,.81),(-.76,-.2),(-.65,.05),(-.57,.3),(-.5,.07),(-.47,.3),(-.4,-.8),(-.34,-.6),(-.27,-.5),(-.1,.78),(-.05,.58),(.25,.6),(.47,.25),(.36,.27),(.42,-.78),(.4,-.5),(.59,-.12),(.71,.25),(.82,.1),(1.0,-.06),(.18,.5),(.02,.5),(-.3,.55),(.12,-.6),
(-.42,.13),(-.35,.1),(-.33,-.1),(-.28,.32),(-.2,.45),(-.13,.42),(-.05,.4),(.03,.35),(.1,.3),(.17,.35),(.24,.3),(.35,.05),(-.3,.05),(-.23,.15),(-.17,.25),(-.1,.2),(-.03,.22),(.05,.18),(.13,.2),(.2,.15),(.28,.1),(-.27,-.02),(-.2,-.05),(-.13,.02),(-.06,.05),(.02,.05),(.08,.08),(.15,.0),(.22,.03),(.33,-.05),
(-.22,-.2),(-.15,-.12),(-.08,-.08),(0,-.05),(.07,-.03),(.14,-.1),(.22,-.1),(.3,-.15),(.42,-.2),(-.18,-.28),(-.1,-.22),(-.03,-.18),(.05,-.2),(.12,-.25),(.2,-.22),(.3,-.3),(.4,-.25),(-.1,-.35),(0,-.38),(.08,-.4),(.18,-.35),(.22,-.45),(-.22,-.35),(.03,-.45),(.32,-.45),(-.02,.0),(.04,-.06)]
c_lck_core = [(-.24,.08),(-.22,.28),(-.2,-.12),(-.18,.12),(-.16,-.04),(-.15,.34),(-.14,-.2),(-.12,.16),(-.11,-.04),(-.09,.3),(-.08,-.14),(-.07,.1),(-.05,-.28),(-.04,.14),(-.02,-.1),(-.01,.3),(.0,-.26),(.01,.12),(.03,-.1),(.04,.26),(.06,-.3),(.07,.14),(.09,-.14),(.1,.04),(.11,.38),(.12,-.32),(.14,.1),(.16,-.18),(.17,.22),(.19,-.06),(.2,-.3),(.21,.26),(.23,-.16),(.25,.05),(.26,-.24),(.27,.2),(.29,-.06),(.32,.14),(.35,-.16),(-.02,.32),(.08,.42),(-.17,.38)]
c_lck_line = [.385, -.35]

c_gli_pts = [(-.94,-.04),(-.82,.01),(-.72,-.96),(-.62,.04),(-.55,-.55),(-.53,.22),(-.52,-.17),(-.43,-.45),(-.42,.3),(-.36,.49),(-.28,-.5),(-.22,.52),(-.18,-.64),(-.02,.92),(-.01,.95),(.14,.73),(.23,.56),(.35,.57),(.5,.58),(.46,.51),(.55,.33),(.44,.26),(.46,-.38),(.41,-.47),(.76,-.04),(.82,-.1),(1.03,.19),(.07,-.47),(.14,-.36),(.36,-.25),(-.01,-.4),(-.13,.42),(.05,.42),
(-.42,-.1),(-.38,-.05),(-.35,.15),(-.33,-.2),(-.28,.25),(-.25,-.25),(-.22,-.4),(-.18,.2),(-.13,.25),(-.05,.2),(.03,.32),(.1,.25),(.18,.2),(.24,.32),(.35,.42),(-.3,.05),(-.22,.02),(-.15,.1),(-.08,.12),(-.02,.08),(.05,.15),(.12,.12),(.2,.1),(.28,.1),(.33,.03),(-.2,-.08),(-.13,-.03),(-.06,.0),(.0,.03),(.07,.02),(.14,.05),(.22,.0),(.3,-.02),
(-.2,-.15),(-.12,-.12),(-.05,-.08),(.02,-.06),(.09,-.08),(.16,-.05),(.25,-.12),(.35,-.1),(-.14,-.22),(-.06,-.18),(.02,-.16),(.1,-.2),(.2,-.18),(.28,-.16),(-.12,-.27),(.0,-.22),(.13,-.24),(-.03,-.05),(.04,-.1),(-.08,-.1)]
c_gli_core = [(-.11,.02),(-.1,-.06),(-.09,.18),(-.07,-.14),(-.06,.06),(-.04,-.16),(-.03,.12),(-.02,-.04),(-.01,-.12),(.01,.1),(.01,-.02),(.03,-.12),(.04,.06),(.05,-.2),(.06,-.02),(.08,.08),(.08,-.14),(.1,.16),(.11,-.04),(.12,-.14),(.13,.06),(.14,-.08),(.15,.16),(.16,-.18),(.17,.02),(.18,-.1),(.19,.12),(.21,-.06),(.22,-.18),(.23,.08),(.24,.18),(.25,-.02),(.26,-.2),(.27,.04),(.29,-.1),(.31,.1),(.32,-.16),(.34,.02),(-.24,-.1),(-.18,.06)]
c_gli_line = [-.226, .24]

#Tick values

ticks_10 = [-1.0, -0.5, 0.0, 0.5, 1.0]
ticks_05 = [-0.5, 0.0, 0.5]
ticks_05_1 = [-0.5, 0.0, 0.5, 1.0]
ticks_15 = [-1.5, -1.0, -0.5, 0.0, 0.5]
ticks_06 = [-0.6, -0.4, -0.2, 0.0, 0.2, 0.4, 0.6]
ticks_tnf = [-0.4, -0.2, 0.0, 0.2, 0.4, 0.6]
skip_06 = [-0.4, 0.0, 0.4]

#Each panel: box in pixels (left, top, right, bottom), limits, ticks, hidden tick labels, labels, data

panels = [
    ((231,113,333,205), (-1.08,1.12), (-1.36,1.37), ticks_10, ticks_10, [], [-0.5], "HRAS | others", "GRB2", hras_pts + hras_core, hras_line),
    ((387,113,489,205), (-.87,.71), (-1.05,1.135), ticks_05, ticks_10, [], [], "PIK3R1 | others", "GRB2", grb_pik_pts + grb_pik_core, grb_pik_line),
    ((543,114,646,205), (-.78,1.02), (-1.25,1.07), ticks_05_1, ticks_10, [], [], "MYB | others", "GRB2", myb_pts + myb_core, myb_line),
    ((231,259,333,350), (-1.485,1.114), (-1.16,1.065), ticks_10, ticks_10, [], [], "LCK | others", "GRB2", lck_pts + lck_core, lck_line),
    ((387,259,489,350), (-1.44,.858), (-1.286,1.16), [-1.0,-0.5,0.0,0.5], ticks_10, [], [], "FYN | others", "GRB2", fyn_pts + fyn_core, fyn_line),
    ((543,258,646,350), (-.85,1.13), (-1.5,1.05), ticks_05_1, ticks_10, [], [-0.5], "TP53 | others", "GRB2", tp53_pts + tp53_core, tp53_line),
    ((231,404,333,495), (-.9,.82), (-1.135,1.094), ticks_05, ticks_10, [], [], "ERBB3 | others", "GRB2", erbb3_pts + erbb3_core, erbb3_line),
    ((387,404,489,495), (-.94,.893), (-1.22,1.124), ticks_05, ticks_10, [], [], "EGFR | others", "GRB2", egfr_pts + egfr_core, egfr_line),
    ((543,403,646,496), (-.865,1.04), (-1.095,1.185), ticks_05_1, ticks_10, [], [], "RELA | others", "GRB2", rela_pts + rela_core, rela_line),
    ((724,108,826,198), (-1.657,.912), (-.718,.773), ticks_15, ticks_06, [], skip_06, "TLE4 | others", "GLI2", tle4_pts + tle4_core, tle4_line),
    ((878,108,980,198), (-.92,.70), (-.693,.84), ticks_05, ticks_06, [], skip_06, "BCL10 | others", "GLI2", bcl10_pts + bcl10_core, bcl10_line),
    ((1033,108,1135,198), (-1.457,1.457), (-.806,.836), ticks_10, ticks_05, [-0.5], [], "FOS | others", "GLI2", fos_pts + fos_core, fos_line),
    ((724,251,826,342), (-1.106,1.22), (-.786,.993), ticks_10, ticks_05, [], [], "NRAS | others", "GLI2", nras_pts + nras_core, nras_line),
    ((878,251,980,342), (-.718,.762), (-.79,.767), ticks_06, ticks_05, skip_06, [], "PIK3R1 | others", "GLI2", gli_pik_pts + gli_pik_core, gli_pik_line),
    ((1033,251,1135,342), (-1.362,1.276), (-.89,.865), ticks_10, ticks_05, [], [], "LCK | others", "GLI2", gli_lck_pts + gli_lck_core, gli_lck_line),
    ((724,395,826,486), (-.538,.625), (-.69,.80), ticks_tnf, ticks_06, [-0.2], skip_06, "TNFRSF11A | others", "GLI2", tnf_pts + tnf_core, tnf_line),
    ((878,395,980,486), (-.62,.677), (-.645,.817), ticks_06, ticks_06, skip_06, skip_06, "ROR2 | others", "GLI2", ror2_pts + ror2_core, ror2_line),
    ((1033,395,1135,486), (-.607,.615), (-.68,.822), ticks_06, ticks_06, [-0.4, 0.0], skip_06, "CCL17 | others", "GLI2", ccl17_pts + ccl17_core, ccl17_line),
    ((465,588,661,678), (-1.187,1.079), (-1.156,1.34), ticks_10, ticks_10, [], [], "STAT3 | others", "LCK", c_lck_pts + c_lck_core, c_lck_line),
    ((712,588,888,680), (-1.016,1.104), (-1.0,1.02), ticks_10, ticks_10, [], [], "STAT3 | others", "GLI2", c_gli_pts + c_gli_core, c_gli_line),
]

title_lines = ["Regression models predicting expression of (A) GRB2, (B) GLI2 and (C) LCK", "derived from the meta-dataset"]
caption = [
    [("(A)", "bold"), (" Multivariant regression model for GRB2 (", "light"), ("R", "italic"), ("2", "sup"), (" = 0.76). While the rest of the predictors showed a positive association with GRB2, HRAS, MYB (TF for", "light")],
    [("LCK), and LCK demonstrated a negative association. ", "light"), ("(B)", "bold"), (" Multivariant regression model for GLI2 (TF for WNT2B) (", "light"), ("R", "italic"), ("2", "sup"), (" = 0.70). The model demonstrated", "light")],
    [("positive associations of GL2 with key mediators of TCR signaling: BCL10, PIK3R1, LCK, and TNFRSF11A. ", "light"), ("(C)", "bold"), (" Regression model predicting the", "light")],
    [("association of LCK and GLI2 with STAT3.", "light")],
]

fig = plt.figure(figsize=(W / 100, H / 100), dpi=100)


def fx(x):
    return x / W


def fy(y):
    return 1 - y / H


def draw_panel(box, xlim, ylim, xticks, yticks, xhide, yhide, xlabel, ylabel, pts, line):
    left, top, right, bottom = box
    ax = fig.add_axes([fx(left), fy(bottom), (right - left) / W, (bottom - top) / H])
    ax.set_xlim(xlim)
    ax.set_ylim(ylim)
    ax.set_xticks(xticks)
    ax.set_yticks(yticks)
    ax.set_xticklabels(["" if t in xhide else f"{t:.1f}" for t in xticks], fontsize=5.5, color="#444444", family="Liberation Sans")
    ax.set_yticklabels(["" if t in yhide else f"{t:.1f}" for t in yticks], fontsize=5.5, color="#444444", family="Liberation Sans", rotation=90, va="center")
    ax.tick_params(axis="x", length=2, width=0.6, color="#444444", pad=6)
    ax.tick_params(axis="y", length=2, width=0.6, color="#444444", pad=4)
    ax.grid(True, color="#e6e6e6", lw=1.2)
    ax.set_axisbelow(True)
    for s in ax.spines.values():
        s.set_color("#444444")
        s.set_linewidth(1.1)
    xs = [p[0] for p in pts]
    ys = [p[1] for p in pts]
    ax.scatter(xs, ys, s=5, facecolors="none", edgecolors="#111111", linewidths=0.7, alpha=0.85, zorder=3)
    ax.plot(xlim, line, color="#3a4ea6", lw=1.6, zorder=4, solid_capstyle="butt")
    fig.text(fx((left + right) / 2), fy(bottom + 31), xlabel, fontsize=5.3, color="#444444", family="Liberation Sans", ha="center", va="center")
    fig.text(fx(left - 31), fy((top + bottom) / 2), ylabel, fontsize=5.3, color="#444444", family="Liberation Sans", rotation=90, ha="center", va="center")


for p in panels:
    draw_panel(*p)

#Panel letters and title

for letter, x, y in [("A", 203, 105), ("B", 675, 105), ("C", 434, 574)]:
    fig.text(fx(x), fy(y), letter, fontsize=13, fontweight="bold", family="Liberation Sans", ha="center", va="center", color="black")

fig.text(fx(657), fy(47), title_lines[0], fontsize=14.2, fontweight="medium", family="Roboto", ha="center", va="center", color="#111111")
fig.text(fx(657), fy(70), title_lines[1], fontsize=14.2, fontweight="medium", family="Roboto", ha="center", va="center", color="#111111")

#Caption, runs put one after the other

fig.text(fx(34), fy(746), "FIGURE 8", fontsize=9.2, family="Open Sans", color="#6e6e6e", va="center")
renderer = fig.canvas.get_renderer()
line_ys = [768, 793, 817, 841]
for runs, y in zip(caption, line_ys):
    x = 34
    for txt, kind in runs:
        size = 13.25
        kw = {}
        yy = y
        if kind == "bold":
            kw["fontweight"] = "bold"
        if kind == "italic":
            kw["fontstyle"] = "italic"
        if kind == "sup":
            size = 8.5
            yy = y - 5
        fig.text(fx(x), fy(yy), txt, fontsize=size, family="Open Sans", color="#7a7a7a", va="center", **kw)
        # trailing spaces are not measured, so measure with a dot on the end
        probe = fig.text(0, 0, txt + ".", fontsize=size, family="Open Sans", **kw)
        dot = fig.text(0, 0, ".", fontsize=size, family="Open Sans", **kw)
        x += probe.get_window_extent(renderer).width - dot.get_window_extent(renderer).width
        probe.remove()
        dot.remove()

#Page frame

for xs, ys in [((4.5, 4.5), (6, 876)), ((1320, 1320), (6, 876)), ((4.5, 1320), (6, 6))]:
    fig.add_artist(Line2D([fx(v) for v in xs], [fy(v) for v in ys], color="#cccccc", lw=1.0))

fig.savefig("out.png", dpi=100)
